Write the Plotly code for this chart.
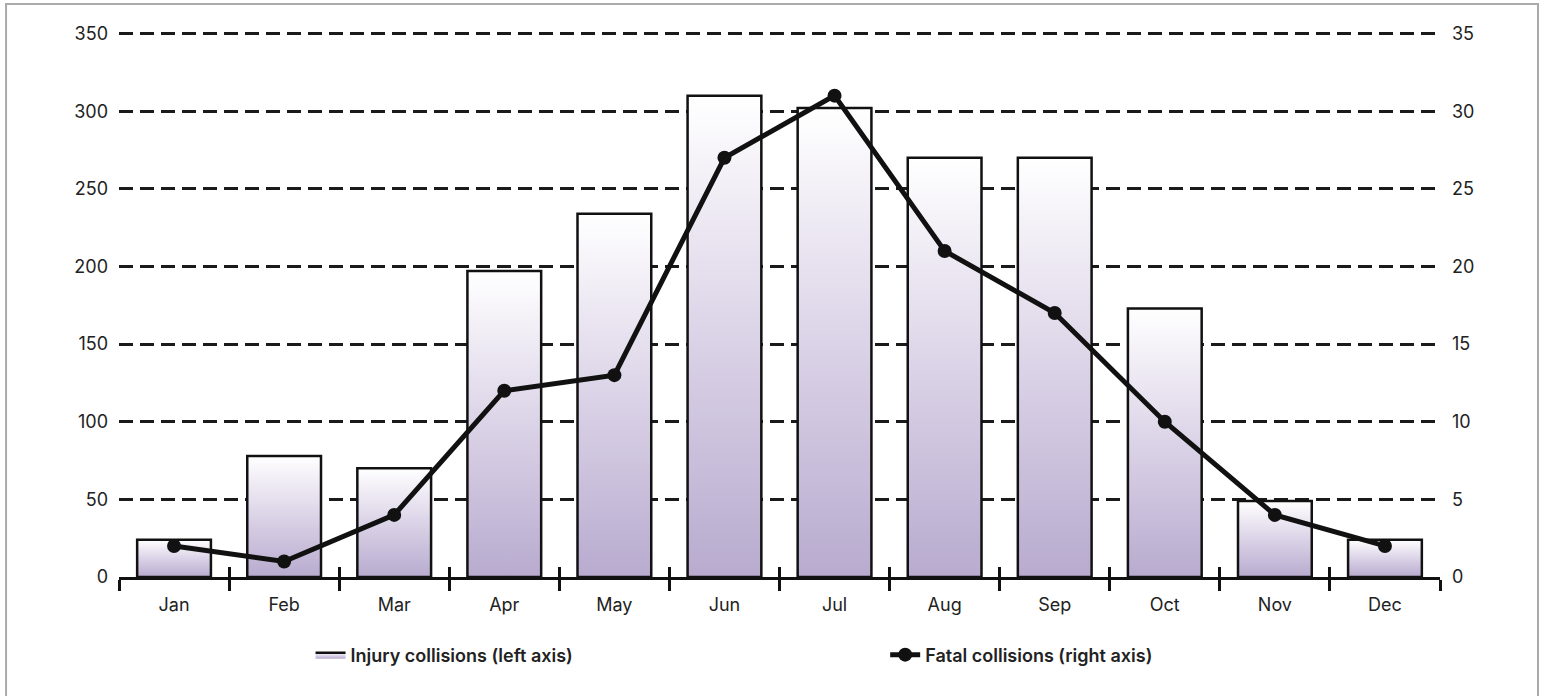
import plotly.graph_objects as go

months = ["Jan", "Feb", "Mar", "Apr", "May", "Jun", "Jul", "Aug", "Sep", "Oct", "Nov", "Dec"]
injury_collisions = [24, 78, 70, 197, 234, 310, 302, 270, 270, 173, 49, 24]
fatal_collisions = [2, 1, 4, 12, 13, 27, 31, 21, 17, 10, 4, 2]
left_ticks = [0, 50, 100, 150, 200, 250, 300, 350]
right_ticks = [0, 5, 10, 15, 20, 25, 30, 35]

FONT = "Inter, Roboto, 'Open Sans', sans-serif"
BAR_W = 0.67
pos = list(range(len(months)))
bounds = [p - 0.5 for p in pos] + [pos[-1] + 0.5]

fig = go.Figure()

# Bars drawn as filled rectangles with a vertical gradient (one per month)
for i, (p, v) in enumerate(zip(pos, injury_collisions)):
    x0, x1 = p - BAR_W / 2, p + BAR_W / 2
    fig.add_trace(go.Scatter(
        x=[x0, x0, x1, x1, x0], y=[0, v, v, 0, 0],
        mode="lines", fill="toself",
        fillgradient=dict(type="vertical",
                          colorscale=[[0, "#b8abcf"], [0.5, "#dbd3e7"], [1, "#ffffff"]]),
        line=dict(color="#111111", width=2.5),
        name="Injury collisions (left axis)",
        legendgroup="inj", showlegend=(i == 0), legend="legend",
        hoverinfo="skip", yaxis="y", xaxis="x",
    ))

fig.add_trace(go.Scatter(
    x=pos, y=fatal_collisions, mode="lines+markers",
    line=dict(color="#111111", width=5),
    marker=dict(color="#111111", size=14),
    name="Fatal collisions (right axis)",
    yaxis="y2", xaxis="x2", legend="legend2",
))

tickfont = dict(family=FONT, size=18, color="#222222")
legfont = dict(family=FONT, size=18, color="#222222", weight=600)

fig.update_layout(
    width=1543, height=696,
    margin=dict(l=119, r=103, t=32, b=119),
    paper_bgcolor="white", plot_bgcolor="white",
    showlegend=True,
    xaxis=dict(
        range=[-0.5, 11.5], tickmode="array", tickvals=pos, ticktext=months,
        ticks="", showgrid=False, zeroline=False,
        showline=True, linecolor="#111111", linewidth=2.5,
        tickfont=tickfont, ticklabelstandoff=10, fixedrange=True,
        minor=dict(tickmode="array", tickvals=bounds, ticks="outside",
                   ticklen=11, tickwidth=2.5, tickcolor="#111111", showgrid=False),
    ),
    xaxis2=dict(
        overlaying="x", anchor="y", side="bottom", range=[-0.5, 11.5],
        tickmode="array", tickvals=bounds, ticktext=[""] * len(bounds),
        ticks="inside", ticklen=10, tickwidth=2.5, tickcolor="#111111",
        showgrid=False, zeroline=False, showline=False, showticklabels=False,
        fixedrange=True,
    ),
    yaxis=dict(
        range=[0, 351], tickmode="array", tickvals=left_ticks,
        showgrid=True, gridcolor="#1a1a1a", gridwidth=2.5, griddash="14px,7px",
        zeroline=False, showline=False, ticks="",
        tickfont=tickfont, ticklabelstandoff=10, fixedrange=True,
    ),
    yaxis2=dict(
        range=[0, 35.1], tickmode="array", tickvals=right_ticks,
        overlaying="y", side="right", showgrid=False, zeroline=False,
        showline=False, ticks="", tickfont=tickfont, ticklabelstandoff=11,
        fixedrange=True,
    ),
    legend=dict(
        orientation="h", x=0.145, y=-0.143, xanchor="left", yanchor="middle",
        font=legfont, bgcolor="rgba(0,0,0,0)",
    ),
    legend2=dict(
        orientation="h", x=0.58, y=-0.143, xanchor="left", yanchor="middle",
        font=legfont, bgcolor="rgba(0,0,0,0)",
    ),
    shapes=[dict(
        type="rect", xref="paper", yref="paper",
        x0=-0.0855, x1=1.0742, y0=-0.3, y1=1.0514,
        line=dict(color="#aaaaaa", width=2), fillcolor="rgba(0,0,0,0)", layer="below",
    )],
)

fig.write_html("out.html", config={"displayModeBar": False},
               post_script="document.body.style.margin='0px';")
